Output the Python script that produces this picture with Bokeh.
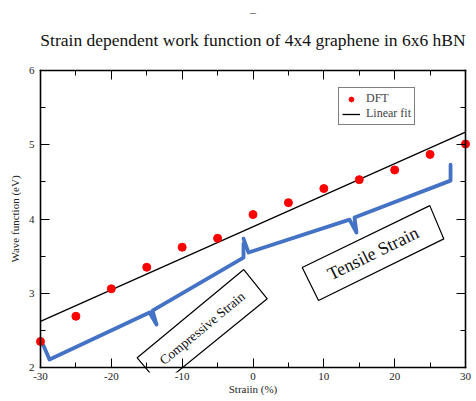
from bokeh.plotting import figure
from bokeh.models import (LinearAxis, FixedTicker, Range1d, Title, Label,
                          PolyAnnotation)
from bokeh.embed import file_html
from bokeh.resources import INLINE

# ---------------- data ----------------
strain = [-30, -25, -20, -15, -10, -5, 0, 5, 10, 15, 20, 25, 30]
work_function = [2.35, 2.69, 3.06, 3.35, 3.62, 3.74, 4.06, 4.22, 4.41, 4.53, 4.66, 4.87, 5.01]
fit_strain = [-30, 30]
fit_value = [2.62, 5.17]

x_ticks = [-30, -20, -10, 0, 10, 20, 30]
x_tick_labels = ["-30", "-20", "-10", "0", "10", "20", "30"]
x_minor = [-25, -15, -5, 5, 15, 25]
y_ticks = [2, 3, 4, 5, 6]
y_tick_labels = ["2", "3", "4", "5", "6"]
y_minor = [2.5, 3.5, 4.5, 5.5]

# annotation shapes (data units)
compressive_brace_x = [-29.58, -28.73, -14.61, -13.62, -14.19, -1.34, -1.34]
compressive_brace_y = [2.296, 2.108, 2.740, 2.579, 2.767, 3.480, 3.669]
tensile_brace_x = [-1.34, -0.63, 13.63, 14.61, 14.33, 27.89, 27.89]
tensile_brace_y = [3.736, 3.548, 3.992, 3.817, 4.019, 4.517, 4.732]
compressive_box_x = [-16.35, -1.30, 2.01, -13.06]
compressive_box_y = [2.131, 3.319, 2.925, 1.758]
tensile_box_x = [6.95, 24.96, 26.94, 9.25]
tensile_box_y = [3.346, 4.180, 3.732, 2.902]

FONT = "Liberation Serif"
BLUE = "#4472C4"

# small padding so the end markers are not cut by the frame
PX = 5
XPAD = PX / (425 / 60)
YPAD = PX / (297 / 4)

p = figure(width=476, height=401, output_backend="svg", toolbar_location=None,
           x_range=Range1d(-30 - XPAD, 30 + XPAD),
           y_range=Range1d(2 - YPAD, 6 + YPAD),
           min_border_left=40 - PX, min_border_right=11 - PX,
           min_border_top=70 - PX, min_border_bottom=34 - PX,
           x_axis_location=None, y_axis_location=None)
p.grid.visible = False
p.outline_line_color = None
p.background_fill_color = "white"
p.border_fill_color = "white"


def box_axis(ticks, minor, loc, bounds):
    """axis line + inward ticks drawn on the data box edge"""
    ax = LinearAxis(ticker=FixedTicker(ticks=ticks, minor_ticks=minor),
                    fixed_location=loc, bounds=bounds)
    ax.axis_line_color = "black"
    ax.axis_line_width = 1.6
    ax.axis_line_cap = "square"
    ax.major_tick_in = 9
    ax.major_tick_out = 0
    ax.minor_tick_in = 5
    ax.minor_tick_out = 0
    ax.major_tick_line_color = "black"
    ax.minor_tick_line_color = "black"
    ax.major_label_text_color = None
    ax.major_label_text_font_size = "1px"
    ax.major_label_standoff = 0
    return ax


def label_axis(ticks, labels, title, standoff, title_standoff):
    """tick labels and axis title only"""
    ax = LinearAxis(ticker=FixedTicker(ticks=ticks, minor_ticks=[]))
    ax.axis_line_color = None
    ax.major_tick_line_color = None
    ax.minor_tick_line_color = None
    ax.major_tick_in = 0
    ax.major_tick_out = 0
    ax.minor_tick_in = 0
    ax.minor_tick_out = 0
    ax.major_label_overrides = {t: l for t, l in zip(ticks, labels)}
    ax.major_label_text_font = FONT
    ax.major_label_text_font_size = "11px"
    ax.major_label_text_color = "#222222"
    ax.major_label_standoff = standoff
    ax.axis_label = title
    ax.axis_label_text_font = FONT
    ax.axis_label_text_font_style = "normal"
    ax.axis_label_text_font_size = "11px"
    ax.axis_label_text_color = "#222222"
    ax.axis_label_standoff = title_standoff
    return ax


def spacer_axis(ticks, gap):
    """draws nothing; only reserves a gap between frame and title"""
    ax = LinearAxis(ticker=FixedTicker(ticks=ticks, minor_ticks=[]))
    ax.axis_line_color = None
    ax.major_tick_line_color = None
    ax.minor_tick_line_color = None
    ax.major_tick_in = 0
    ax.major_tick_out = gap
    ax.minor_tick_out = 0
    ax.major_label_text_color = None
    ax.major_label_text_font_size = "1px"
    ax.major_label_standoff = 0
    return ax


p.add_layout(label_axis(x_ticks, x_tick_labels, "Straiin (%)", 0, 0), "below")
p.add_layout(label_axis(y_ticks, y_tick_labels, "Wave function (eV)", 1, 5), "left")
p.add_layout(box_axis(x_ticks, x_minor, 2, (-30, 30)), "below")
p.add_layout(box_axis(y_ticks, y_minor, -30, (2, 6)), "left")
p.add_layout(box_axis(x_ticks, x_minor, 6, (-30, 30)), "above")
p.add_layout(box_axis(y_ticks, y_minor, 30, (2, 6)), "right")
p.add_layout(spacer_axis(x_ticks, 5), "above")

# title
t = Title(text="Strain dependent work function of 4x4 graphene in 6x6 hBN",
          align="center", vertical_align="middle", text_font=FONT,
          text_font_size="17.5px", text_font_style="normal",
          text_color="#111111", standoff=19)
p.add_layout(t, "above")
dash = Title(text="\u2013", align="center", text_font=FONT, text_font_size="12px",
             text_font_style="normal", text_color="#555555", standoff=2)
p.add_layout(dash, "above")

# braces
p.line(compressive_brace_x, compressive_brace_y, line_color=BLUE, line_width=3.8,
       line_join="round", line_cap="round")
p.line(tensile_brace_x, tensile_brace_y, line_color=BLUE, line_width=3.8,
       line_join="round", line_cap="round")

# fit and data
p.line(fit_strain, fit_value, line_color="black", line_width=1.3, legend_label="Linear fit")
p.scatter(strain, work_function, size=8, color="red", legend_label="DFT")

# text boxes
for bx, by in [(compressive_box_x, compressive_box_y), (tensile_box_x, tensile_box_y)]:
    p.add_layout(PolyAnnotation(xs=bx, ys=by, fill_alpha=0, line_color="black",
                                line_alpha=1, line_width=1.2))
p.add_layout(Label(x=-7.17, y=2.528, text="Compressive Strain", angle=39.6,
                   angle_units="deg", text_align="center", text_baseline="middle",
                   text_font=FONT, text_font_size="13.5px", text_color="#111111"))
p.add_layout(Label(x=16.94, y=3.538, text="Tensile Strain", angle=26.2,
                   angle_units="deg", text_align="center", text_baseline="middle",
                   text_font=FONT, text_font_size="18px", text_color="#111111"))

leg = p.legend[0]
leg.items = [leg.items[1], leg.items[0]]
leg.location = (303, 247)
leg.label_text_font = FONT
leg.label_text_font_size = "12px"
leg.glyph_width = 18
leg.glyph_height = 12
leg.label_height = 12
leg.label_standoff = 6
leg.spacing = 0
leg.padding = 3
leg.margin = 0
leg.border_line_color = "black"
leg.border_line_width = 1
leg.background_fill_alpha = 1

open("out.html", "w").write(file_html(p, INLINE))
